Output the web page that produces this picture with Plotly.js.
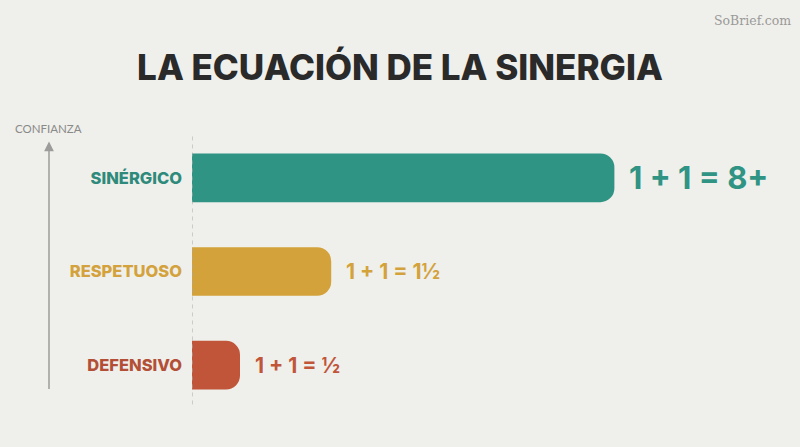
<!DOCTYPE html>
<html><head><meta charset="utf-8">
<script src="https://cdn.plot.ly/plotly-3.0.1.min.js"></script>
<style>html,body{margin:0;padding:0;background:#efefeb;}</style>
</head><body><div id="chart" style="width:800px;height:447px;"></div>
<script>
const categories = ["DEFENSIVO", "RESPETUOSO", "SINÉRGICO"];
const values = [1.0, 2.9, 8.8];
const equations = ["1 + 1 = ½", "1 + 1 = 1½", "1 + 1 = 8+"];
const barColors = ["#c0553a", "#d3a23b", "#2f9483"];
const labelColors = ["#b34f37", "#d4a23c", "#2e8a7a"];
const eqSizes = [21, 21, 31];

const ticktext = categories.map((c, i) => `<span style="color:${labelColors[i]}">${c}</span>`);

const annotations = categories.map((c, i) => ({
  x: values[i], y: c, xref: 'x', yref: 'y', text: equations[i],
  showarrow: false, xanchor: 'left', yanchor: 'middle', xshift: 13,
  font: {family: 'Inter, Lato, sans-serif', size: eqSizes[i], color: barColors[i], weight: 'bold'}
}));
annotations.push({
  xref: 'paper', yref: 'paper', x: -0.2352, y: 0.9628, ax: 0, ay: 249,
  axref: 'pixel', ayref: 'pixel', text: '', showarrow: true,
  arrowhead: 2, arrowsize: 1.3, arrowwidth: 1.5, arrowcolor: '#9c9c9a'
});
annotations.push({
  xref: 'paper', yref: 'paper', x: -0.2352, y: 1.009, text: 'CONFIANZA', showarrow: false,
  xanchor: 'center', yanchor: 'middle',
  font: {family: 'Lato, sans-serif', size: 11.5, color: '#8a8a88'}
});
annotations.push({
  xref: 'paper', yref: 'paper', x: 0.988, y: 1.392, text: 'SoBrief.com', showarrow: false,
  xanchor: 'right', yanchor: 'middle',
  font: {family: 'DejaVu Serif, serif', size: 12.5, color: '#9a9a98'}
});

const data = [{
  type: 'bar', orientation: 'h', x: values, y: categories,
  marker: {color: barColors, cornerradius: 14},
  width: 0.52, hoverinfo: 'skip'
}];

const layout = {
  width: 800, height: 447,
  paper_bgcolor: '#efefeb', plot_bgcolor: '#efefeb',
  margin: {l: 192, r: 0, t: 130.5, b: 34.5},
  title: {text: 'LA ECUACIÓN DE LA SINERGIA', x: 0.5, xanchor: 'center', y: 0.848, yanchor: 'middle',
    font: {family: 'Inter, sans-serif', size: 35, color: '#2a2a2a', weight: 800}},
  xaxis: {range: [0, 12.667], visible: false, fixedrange: true},
  yaxis: {type: 'category', categoryarray: categories, tickvals: categories, ticktext: ticktext,
    range: [-0.5, 2.5], showgrid: false, zeroline: false, showline: false, ticks: '',
    ticklabelstandoff: 9,
    tickfont: {family: 'Inter, Lato, sans-serif', size: 16.5, weight: 800}},
  shapes: [{type: 'line', xref: 'x', yref: 'paper', x0: 0, x1: 0, y0: 0.027, y1: 0.991,
    line: {color: '#a8a8a6', width: 1, dash: '4px,4px'}, layer: 'above'}],
  annotations: annotations,
  showlegend: false
};
Plotly.newPlot('chart', data, layout, {displayModeBar: false, staticPlot: true});
</script></body></html>
